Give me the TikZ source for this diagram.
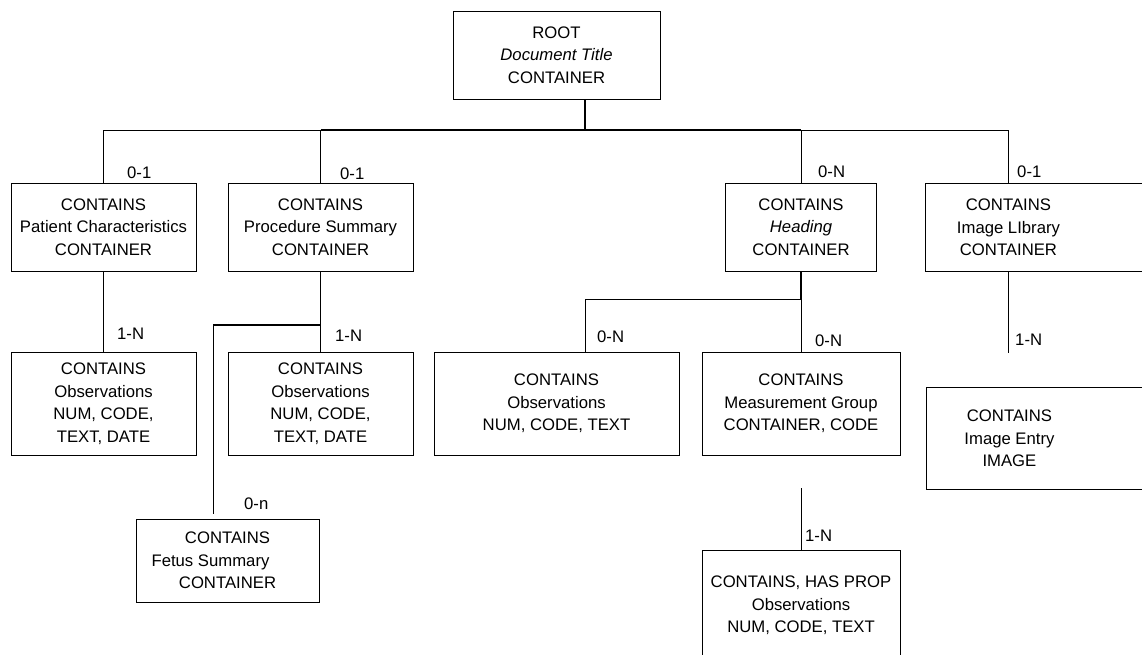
\documentclass[tikz,border=0pt]{standalone}
\usepackage{fontspec}
\setmainfont{Liberation Sans}
\usepackage{xcolor}

\tikzset{
  box/.style={draw, line width=0.9pt, align=center, inner sep=0pt},
  card/.style={anchor=west, inner sep=0pt},
  link/.style={line width=0.9pt},
  heavy/.style={line width=1.6pt}
}

\begin{document}
\begin{tikzpicture}[x=1pt, y=-1pt, font=\fontsize{16.7}{22.5}\selectfont]
                    \useasboundingbox (0,0) rectangle (1142,654);
                    \clip (0,0) rectangle (1142,654);

                    \node[box, minimum width=207pt, minimum height=88pt] (root) at (556.5,55) {ROOT\\\textit{Document Title}\\CONTAINER};

                    \node[box, minimum width=185pt, minimum height=88pt] (pat) at (103.5,227) {CONTAINS\\Patient Characteristics\\CONTAINER};
                    \node[box, minimum width=185pt, minimum height=88pt] (proc) at (320.5,227) {CONTAINS\\Procedure Summary\\CONTAINER};
                    \node[box, minimum width=151pt, minimum height=88pt] (head) at (801,227) {CONTAINS\\\textit{Heading}\\CONTAINER};
                    \node[box, anchor=north west, minimum width=260pt, minimum height=88pt,
                          label={[xshift=-47pt, align=center]center:{CONTAINS\\Image LIbrary\\CONTAINER}}] (imglib) at (925,183) {};

                    \node[box, minimum width=185pt, minimum height=103pt] (patobs) at (103.5,403.5) {CONTAINS\\Observations\\NUM, CODE,\\TEXT, DATE};
                    \node[box, minimum width=185pt, minimum height=103pt] (procobs) at (320.5,403.5) {CONTAINS\\Observations\\NUM, CODE,\\TEXT, DATE};
                    \node[box, minimum width=183pt, minimum height=83pt] (fetus) at (227.5,560.5) {CONTAINS\\Fetus Summary\rule{34pt}{0pt}\\CONTAINER};
                    \node[box, minimum width=245pt, minimum height=103pt] (headobs) at (556.5,403.5) {CONTAINS\\Observations\\NUM, CODE, TEXT};
                    \node[box, minimum width=198pt, minimum height=103pt] (meas) at (801,403.5) {CONTAINS\\Measurement Group\\CONTAINER, CODE};
                    \node[box, anchor=north, minimum width=198pt, minimum height=110pt] (prop) at (801,550) {CONTAINS, HAS PROP\\Observations\\NUM, CODE, TEXT};
                    \node[box, anchor=north west, minimum width=260pt, minimum height=102pt,
                          label={[xshift=-47pt, align=center]center:{CONTAINS\\Image Entry\\IMAGE}}] (imgentry) at (926,387) {};

                    \coordinate (bus) at (585,130);
                    \coordinate (libtop) at (1008,183);
                    \coordinate (libbot) at (1008,271);
                    \coordinate (libend) at (1008,353);
                    \coordinate (procsplit) at (320.5,325);
                    \coordinate (fetusend) at (213,514);
                    \coordinate (headsplit) at (801,299);
                    \coordinate (obsend) at (585,352);
                    \coordinate (measend) at (801,488);

                    \draw[heavy] (root.south -| bus) -- (bus);
                    \draw[link] (pat.north) |- (libtop |- bus) -- (libtop);
                    \draw[link] (proc.north) -- (proc.north |- bus);
                    \draw[link] (head.north) -- (head.north |- bus);
                    \draw[heavy] (proc.north |- bus) -- (head.north |- bus);

                    \draw[link] (pat.south) -- (patobs.north);
                    \draw[link] (proc.south) -- (procobs.north);
                    \draw[heavy] (procsplit) -- (procsplit -| fetusend);
                    \draw[link] (procsplit -| fetusend) -- (fetusend);

                    \draw[heavy] (head.south) -- (headsplit);
                    \draw[link] (headsplit) -- (meas.north);
                    \draw[link] (headsplit) -| (obsend);
                    \draw[link] (measend) -- (prop.north);
                    \draw[link] (libbot) -- (libend);

                    \node[card] (patcard) at (127,173) {0-1};
                    \node[card] (proccard) at (340,174) {0-1};
                    \node[card] (headcard) at (818,172) {0-N};
                    \node[card] (libcard) at (1017,172) {0-1};
                    \node[card] (patobscard) at (117,334) {1-N};
                    \node[card] (procobscard) at (335,336) {1-N};
                    \node[card] (fetuscard) at (244,504) {0-n};
                    \node[card] (headobscard) at (597,337) {0-N};
                    \node[card] (meascard) at (815,341) {0-N};
                    \node[card] (propcard) at (805,536) {1-N};
                    \node[card] (entrycard) at (1015,340) {1-N};
                \end{tikzpicture}
\end{document}
